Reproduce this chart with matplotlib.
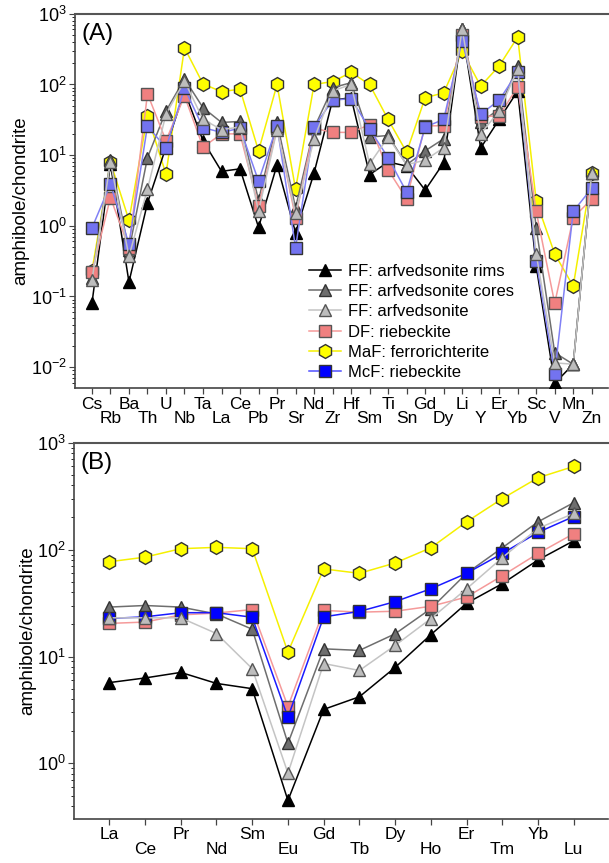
import numpy as np
import matplotlib
matplotlib.use("Agg")
from matplotlib import pyplot as plt
from matplotlib.ticker import LogLocator, NullFormatter

plt.rcParams['font.family'] = ['Liberation Sans', 'DejaVu Sans']
plt.rcParams['mathtext.fontset'] = 'custom'
plt.rcParams['mathtext.rm'] = 'Liberation Sans'
plt.rcParams['mathtext.it'] = 'Liberation Sans:italic'

# panel A: spider diagram
elems_a = ["Cs", "Rb", "Ba", "Th", "U", "Nb", "Ta", "La", "Ce", "Pb", "Pr", "Sr", "Nd", "Zr",
           "Hf", "Sm", "Ti", "Sn", "Gd", "Dy", "Li", "Y", "Er", "Yb", "Sc", "V", "Mn", "Zn"]
ff_rims_a = [0.08, 7.5, 0.16, 2.1, 13, 80, 16, 5.9, 6.4, 0.95, 7.3, 0.8, 5.6, 60,
             65, 5.3, 8.0, 7.0, 3.2, 7.8, 610, 12.6, 32, 81, 0.27, 0.0059, 0.011, 5.6]
ff_cores_a = [0.18, 8.5, 0.45, 9.2, 42, 120, 47, 29, 30, 2.3, 29, 1.8, 24, 90,
              106, 18, 19, 7.3, 11.5, 17, 600, 29, 45, 182, 0.94, 0.016, 0.011, 5.6]
ff_arfv_a = [0.17, 8.0, 0.37, 3.3, 38, 112, 32, 23, 25, 1.6, 23, 1.5, 17, 81,
             100, 7.5, 18, 7.3, 8.5, 12.7, 600, 20, 42, 165, 0.40, 0.0115, 0.011, 5.6]
df_rieb_a = [0.22, 2.5, 0.49, 74, 16, 69, 13, 20, 20, 1.9, 24, 1.3, 24, 21,
             21, 27, 6.2, 2.4, 26, 26, 500, 35, 36, 93, 1.6, 0.08, 1.3, 2.4]
maf_ferr_a = [0.23, 8.0, 1.2, 36, 5.4, 330, 102, 79, 86, 11.5, 100, 3.3, 100, 110,
              148, 100, 32, 11, 65, 76, 295, 95, 183, 470, 2.25, 0.40, 0.14, 5.5]
mcf_rieb_a = [0.93, 3.9, 0.55, 26, 12.6, 89, 24.5, 21, 24, 4.3, 26, 0.49, 25, 60,
              63, 23.5, 9.2, 3.0, 25, 32, 415, 38, 60, 150, 0.32, 0.0081, 1.6, 3.4]

# panel B: REE
elems_b = ["La", "Ce", "Pr", "Nd", "Sm", "Eu", "Gd", "Tb", "Dy", "Ho", "Er", "Tm", "Yb", "Lu"]
ff_rims_b = [5.7, 6.3, 7.1, 5.6, 5.0, 0.45, 3.2, 4.2, 7.9, 16, 31.5, 48, 80, 121]
ff_cores_b = [29, 30, 29, 25, 18, 1.54, 11.8, 11.4, 16.3, 28, 60, 104, 182, 275]
ff_arfv_b = [23, 23, 23, 16.4, 7.7, 0.81, 8.6, 7.4, 12.7, 22.6, 43, 84, 158, 218]
df_rieb_b = [20.4, 21, 24.5, 25.5, 27.5, 3.4, 27, 26, 26.5, 29.5, 36, 57, 92, 141]
maf_ferr_b = [77, 85, 102, 105, 102, 11, 66, 60, 75, 104, 182, 300, 470, 600]
mcf_rieb_b = [22.7, 23.5, 25.7, 25.7, 23.3, 2.7, 23.5, 26.4, 32.6, 43, 60, 92, 145, 204]

labels = ["FF: arfvedsonite rims", "FF: arfvedsonite cores", "FF: arfvedsonite",
          "DF: riebeckite", "MaF: ferrorichterite", "McF: riebeckite"]


def styles(blue_face, blue_line):
    return [
        dict(marker='^', color='black', mfc='black', mec='black', ms=9, zorder=3),
        dict(marker='^', color='#6e6e6e', mfc='#6e6e6e', mec='#333333', ms=9, zorder=3),
        dict(marker='^', color='#c4c4c4', mfc='#bdbdbd', mec='#555555', ms=9, zorder=6),
        dict(marker='s', color='#f59a9a', mfc='#f08080', mec='#555555', ms=8, zorder=4),
        dict(marker='h', color='#f5f000', mfc='#ffff00', mec='#333333', ms=10, zorder=2),
        dict(marker='s', color=blue_line, mfc=blue_face, mec='#333333', ms=8, zorder=5),
    ]


def setup_axes(ax, elems, ymin, tag, row2_pad):
    x = np.arange(len(elems))
    ax.set_yscale('log')
    ax.set_ylim(ymin, 1e3)
    # staggered element names: even ones on the first row, odd ones one row lower
    ax.set_xticks(x[::2])
    ax.set_xticklabels(elems[::2], fontsize=12.5)
    ax.set_xticks(x[1::2], minor=True)
    ax.set_xticklabels(elems[1::2], minor=True, fontsize=12.5)
    ax.tick_params(axis='x', which='both', direction='out', length=4, color='#444444',
                   width=0.9)
    ax.tick_params(axis='x', which='major', pad=2)
    ax.tick_params(axis='x', which='minor', pad=row2_pad)
    ax.yaxis.set_major_locator(LogLocator(base=10, numticks=10))
    ax.yaxis.set_minor_locator(LogLocator(base=10, subs=np.arange(2, 10), numticks=10))
    ax.yaxis.set_minor_formatter(NullFormatter())
    ax.tick_params(axis='y', labelsize=13, direction='out', length=4, color='#444444', pad=2)
    ax.tick_params(axis='y', which='minor', length=2)
    ax.set_ylabel("amphibole/chondrite", fontsize=13.5, labelpad=1)
    for s in ['left', 'bottom']:
        ax.spines[s].set_color('#444444')
        ax.spines[s].set_linewidth(1.2)
    ax.spines['top'].set_color('#555555')
    ax.spines['top'].set_linewidth(1.5)
    ax.spines['right'].set_visible(False)
    ax.text(0.012, 0.975, tag, transform=ax.transAxes, fontsize=17.5, va='top', ha='left')
    return x


fig = plt.figure(figsize=(6.09, 8.63), dpi=100)
ax_a = fig.add_axes([0.123, 0.550, 0.876, 0.434])
ax_b = fig.add_axes([0.122, 0.051, 0.877, 0.436])

xa = setup_axes(ax_a, elems_a, 10 ** -2.3, "(A)", 12.5)
ax_a.set_xlim(-0.92, 27.9)
series_a = [ff_rims_a, ff_cores_a, ff_arfv_a, df_rieb_a, maf_ferr_a, mcf_rieb_a]
for vals, st, lab in zip(series_a, styles('#7373f0', '#8080f5'), labels):
    ax_a.plot(xa, vals, lw=1.1, mew=1.0, label=lab, **st)
leg_handles = []
for st, lab in zip(styles('#0000ff', '#5050ff'), labels):
    st = dict(st)
    st.pop('zorder')
    h, = ax_a.plot([], [], lw=1.1, mew=1.0, label=lab, **st)
    leg_handles.append(h)
ax_a.legend(handles=leg_handles, loc='lower left', bbox_to_anchor=(0.42, -0.005),
            frameon=False, fontsize=12, handlelength=1.9, handletextpad=0.45,
            labelspacing=0.32, borderaxespad=0.2)

xb = setup_axes(ax_b, elems_b, 10 ** -0.52, "(B)", 12.5)
ax_b.set_xlim(-0.98, 13.97)
series_b = [ff_rims_b, ff_cores_b, ff_arfv_b, df_rieb_b, maf_ferr_b, mcf_rieb_b]
for vals, st in zip(series_b, styles('#0000ff', '#1a1aff')):
    ax_b.plot(xb, vals, lw=1.1, mew=1.0, **st)

fig.savefig("out.png", dpi=100)
